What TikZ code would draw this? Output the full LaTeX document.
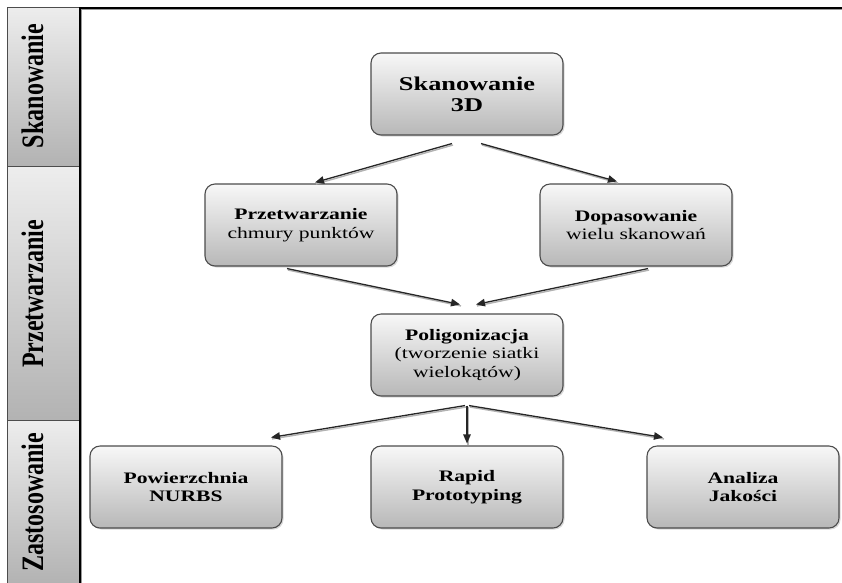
\documentclass[tikz,border=0pt]{standalone}
\usepackage{fontspec}
\setmainfont{Liberation Serif}
\newfontfamily\boxfont[FakeStretch=1.35]{Liberation Serif}
\usetikzlibrary{arrows.meta,shadows,calc}
\begin{document}
\begin{tikzpicture}[x=1pt,y=-1pt,
  stepbox/.style={draw=black!70, line width=1.1pt, rounded corners=10pt,
    minimum width=192pt, minimum height=82pt, top color=black!3, bottom color=black!28,
    align=center, font=\boxfont\fontsize{16}{18.5}\selectfont,
    drop shadow={shadow xshift=1.5pt, shadow yshift=-1.5pt, opacity=0.3}},
  bigbox/.style={stepbox, font=\boxfont\fontsize{19.5}{21}\selectfont},
  lanecell/.style={draw=black!70, line width=0.8pt, top color=black!7, bottom color=black!30},
  lanelabel/.style={rotate=90, anchor=base, inner sep=0pt, font=\fontsize{24}{28}\selectfont\bfseries},
  arr/.style={line width=1.3pt, black!85, -{Triangle[length=9pt,width=7.5pt]},
    preaction={draw=black!30, line width=1.4pt, -, transform canvas={xshift=1pt,yshift=-1.5pt}}},
]
\useasboundingbox (0,0) rectangle (842,582);
% lane column
\draw[lanecell] (7,7) rectangle (79,166);
\draw[lanecell] (7,166) rectangle (79,420);
\draw[lanecell] (7,420) rectangle (79,584);
\node[lanelabel] (L1) at (43,86) {\scalebox{1}[1.3]{Skanowanie}};
\node[lanelabel] (L2) at (43,294) {\scalebox{1}[1.3]{Przetwarzanie}};
\node[lanelabel] (L3) at (43,502) {\scalebox{1}[1.3]{Zastosowanie}};
% frame
\draw[black!40, line width=1pt] (81.5,584) -- (81.5,9.5) -- (842,9.5);
\draw[black, line width=2.2pt] (80,584) -- (80,8) -- (842,8);
% boxes
\node[bigbox] (A) at (467,94) {\textbf{Skanowanie}\\\textbf{3D}};
\node[stepbox] (B) at (301,225) {\textbf{Przetwarzanie}\\chmury punktów};
\node[stepbox] (C) at (636,225) {\textbf{Dopasowanie}\\wielu skanowań};
\node[stepbox] (D) at (467,355) {\textbf{Poligonizacja}\\(tworzenie siatki\\wielokątów)};
\node[stepbox] (E) at (186,487) {\textbf{Powierzchnia}\\\textbf{NURBS}};
\node[stepbox] (F) at (467,487) {\textbf{Rapid}\\\textbf{Prototyping}};
\node[stepbox] (G) at (743,487) {\textbf{Analiza}\\\textbf{Jakości}};
% connectors
\draw[arr] ($(A.south)+(-15,8)$) -- ($(B.north)+(14,-1)$);
\draw[arr] ($(A.south)+(14,8)$) -- ($(C.north)+(-19,-2)$);
\draw[arr] ($(B.south)+(-14,2)$) -- ($(D.north)+(-7,-9)$);
\draw[arr] ($(C.south)+(12,2)$) -- ($(D.north)+(9,-9)$);
\draw[arr] ($(D.south)+(0,9)$) -- ($(F.north)+(0,-2)$);
\draw[arr] ($(D.south)+(-2,9)$) -- ($(E.north)+(85,-8)$);
\draw[arr] ($(D.south)+(2,9)$) -- ($(G.north)+(-80,-8)$);
\end{tikzpicture}
\end{document}
